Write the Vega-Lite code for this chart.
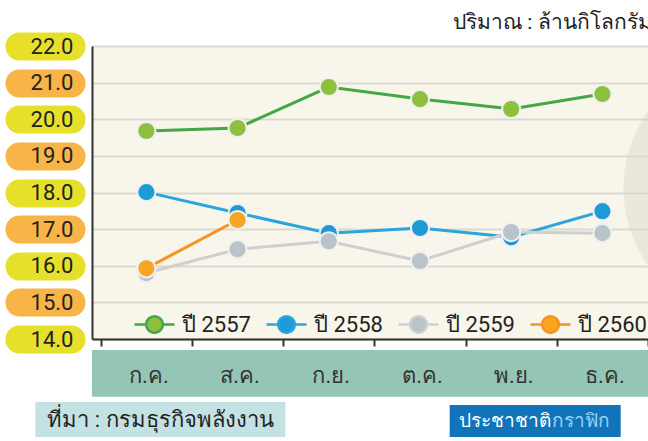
{
  "$schema": "https://vega.github.io/schema/vega-lite/v6.json",
  "width": 556,
  "height": 293,
  "autosize": {"type": "none"},
  "padding": {"left": 92, "top": 46, "right": 0, "bottom": 102},
  "background": "white",
  "config": {
    "view": {"fill": "#f8f6ea", "stroke": null},
    "font": "Liberation Sans Narrow, Roboto, sans-serif",
    "axisY": {
      "title": null,
      "labelOverlap": false,
      "format": ".1f",
      "domainColor": "#333333",
      "domainWidth": 2,
      "grid": true,
      "gridColor": "#d9d8d2",
      "gridWidth": 2,
      "tickSize": 100,
      "tickWidth": 28,
      "tickCap": "round",
      "tickDash": [52, 2000],
      "tickDashOffset": -21,
      "labelPadding": -81,
      "labelAlign": "right",
      "labelBaseline": "middle",
      "labelFontSize": 22,
      "labelColor": "#222222"
    }
  },
  "title": {
    "text": "ปริมาณ : ล้านกิโลกรัม",
    "anchor": "start",
    "frame": "group",
    "dx": 361,
    "offset": -1,
    "fontSize": 21,
    "fontWeight": "normal",
    "color": "#222222"
  },
  "data": {
    "values": [
      {"month": "ก.ค.", "series": "ปี 2557", "value": 19.68},
      {"month": "ส.ค.", "series": "ปี 2557", "value": 19.76},
      {"month": "ก.ย.", "series": "ปี 2557", "value": 20.88},
      {"month": "ต.ค.", "series": "ปี 2557", "value": 20.55},
      {"month": "พ.ย.", "series": "ปี 2557", "value": 20.28},
      {"month": "ธ.ค.", "series": "ปี 2557", "value": 20.69},
      {"month": "ก.ค.", "series": "ปี 2558", "value": 18.01},
      {"month": "ส.ค.", "series": "ปี 2558", "value": 17.44},
      {"month": "ก.ย.", "series": "ปี 2558", "value": 16.89},
      {"month": "ต.ค.", "series": "ปี 2558", "value": 17.03},
      {"month": "พ.ย.", "series": "ปี 2558", "value": 16.78},
      {"month": "ธ.ค.", "series": "ปี 2558", "value": 17.49},
      {"month": "ก.ค.", "series": "ปี 2559", "value": 15.80},
      {"month": "ส.ค.", "series": "ปี 2559", "value": 16.45},
      {"month": "ก.ย.", "series": "ปี 2559", "value": 16.67},
      {"month": "ต.ค.", "series": "ปี 2559", "value": 16.13},
      {"month": "พ.ย.", "series": "ปี 2559", "value": 16.92},
      {"month": "ธ.ค.", "series": "ปี 2559", "value": 16.89},
      {"month": "ก.ค.", "series": "ปี 2560", "value": 15.93},
      {"month": "ส.ค.", "series": "ปี 2560", "value": 17.25}
    ]
  },
  "layer": [
    {
      "data": {"values": [{}]},
      "mark": {"type": "rect", "color": "#94c5b5"},
      "encoding": {
        "y": {"datum": 13.70, "type": "quantitative", "scale": {"domain": [14, 22], "zero": false, "nice": false}, "axis": {"values": [14, 15, 16, 17, 18, 19, 20, 21, 22], "tickCount": 20, "tickColor": {"condition": {"test": "datum.value % 2 == 0", "value": "#e6e02a"}, "value": "#f8b447"}}},
        "y2": {"datum": 12.42}
      }
    },
    {
      "mark": {"type": "line", "strokeWidth": 3},
      "encoding": {
        "x": {
          "field": "month",
          "type": "nominal",
          "sort": ["ก.ค.", "ส.ค.", "ก.ย.", "ต.ค.", "พ.ย.", "ธ.ค."],
          "scale": {"type": "band", "paddingInner": 0, "paddingOuter": 0.0482, "align": 1},
          "axis": {
            "title": null,
            "orient": "bottom",
            "zindex": 1,
            "domainColor": "#333333",
            "domainWidth": 2,
            "tickColor": "#333333",
            "tickSize": 7,
            "tickWidth": 2,
            "tickBand": "extent",
            "tickOffset": -9,
            "labelOffset": 2,
            "labelAngle": 0,
            "labelFontSize": 22,
            "labelColor": "#333333",
            "labelBaseline": "middle",
            "labelPadding": 29,
            "grid": false
          }
        },
        "y": {
          "field": "value",
          "type": "quantitative",
          "axis": {"values": [14, 15, 16, 17, 18, 19, 20, 21, 22], "tickCount": 20, "tickColor": {"condition": {"test": "datum.value % 2 == 0", "value": "#e6e02a"}, "value": "#f8b447"}}
        },
        "color": {
          "field": "series",
          "type": "nominal",
          "scale": {
            "domain": ["ปี 2557", "ปี 2558", "ปี 2559", "ปี 2560"],
            "range": ["#43a647", "#2aa5de", "#cfcfcf", "#f7931e"]
          },
          "legend": {
            "title": null,
            "orient": "none",
            "direction": "horizontal",
            "legendX": 41,
            "legendY": 257,
            "symbolType": "M-1,0H-0.42M0.42,0H1M0.42,0A0.42,0.42,0,1,1,-0.42,0A0.42,0.42,0,1,1,0.42,0Z",
            "symbolSize": 1600,
            "symbolStrokeWidth": 2.5,
            "labelFontSize": 22,
            "labelColor": "#222222",
            "labelOffset": 6,
            "columnPadding": 10,
            "encode": {
              "symbols": {
                "update": {
                  "fill": {"scale": "fill", "field": "value"},
                  "stroke": {"scale": "color", "field": "value"}
                }
              }
            }
          }
        }
      }
    },
    {
      "mark": {"type": "point", "filled": true, "size": 330, "stroke": "#f0f0f0", "strokeWidth": 2, "opacity": 1},
      "encoding": {
        "x": {"field": "month", "type": "nominal", "sort": ["ก.ค.", "ส.ค.", "ก.ย.", "ต.ค.", "พ.ย.", "ธ.ค."]},
        "y": {"field": "value", "type": "quantitative", "axis": {"values": [14, 15, 16, 17, 18, 19, 20, 21, 22], "tickCount": 20, "tickColor": {"condition": {"test": "datum.value % 2 == 0", "value": "#e6e02a"}, "value": "#f8b447"}}},
        "fill": {
          "field": "series",
          "type": "nominal",
          "scale": {
            "domain": ["ปี 2557", "ปี 2558", "ปี 2559", "ปี 2560"],
            "range": ["#8dc03f", "#1e9bd7", "#b9c3ca", "#f6a623"]
          },
          "legend": null
        }
      }
    },
    {
      "data": {"values": [{}]},
      "mark": {"type": "point", "shape": "circle", "size": 71824, "filled": true, "color": "#d9d6c8", "opacity": 0.45, "xOffset": 611},
      "encoding": {
        "x": {"datum": "ก.ค."},
        "y": {"datum": 18.12, "type": "quantitative"}
      }
    },
    {
      "data": {"values": [{}]},
      "mark": {"type": "point", "shape": "M-1,-0.14H1V0.14H-1Z", "size": 62500, "filled": true, "color": "#c4e2e4", "opacity": 1, "xOffset": 14},
      "encoding": {
        "x": {"datum": "ก.ค."},
        "y": {"datum": 11.80, "type": "quantitative"}
      }
    },
    {
      "data": {"values": [{"t": "ที่มา : กรมธุรกิจพลังงาน"}]},
      "mark": {"type": "text", "fontSize": 22, "color": "#222222", "align": "center", "baseline": "middle", "dx": 14},
      "encoding": {
        "x": {"datum": "ก.ค."},
        "y": {"datum": 11.80, "type": "quantitative"},
        "text": {"field": "t"}
      }
    },
    {
      "data": {"values": [{}]},
      "mark": {"type": "point", "shape": "M-1,-0.187H1V0.187H-1Z", "size": 29241, "filled": true, "color": "#1174bb", "opacity": 1, "xOffset": 24},
      "encoding": {
        "x": {"datum": "พ.ย."},
        "y": {"datum": 11.76, "type": "quantitative"}
      }
    },
    {
      "data": {"values": [{"t": "ประชาชาติ"}]},
      "mark": {"type": "text", "fontSize": 19, "color": "#ffffff", "align": "right", "baseline": "middle", "dx": 40},
      "encoding": {
        "x": {"datum": "พ.ย."},
        "y": {"datum": 11.76, "type": "quantitative"},
        "text": {"field": "t"}
      }
    },
    {
      "data": {"values": [{"t": "กราฟิก"}]},
      "mark": {"type": "text", "fontSize": 19, "color": "#95d2f3", "align": "left", "baseline": "middle", "dx": 41},
      "encoding": {
        "x": {"datum": "พ.ย."},
        "y": {"datum": 11.76, "type": "quantitative"},
        "text": {"field": "t"}
      }
    }
  ]
}
